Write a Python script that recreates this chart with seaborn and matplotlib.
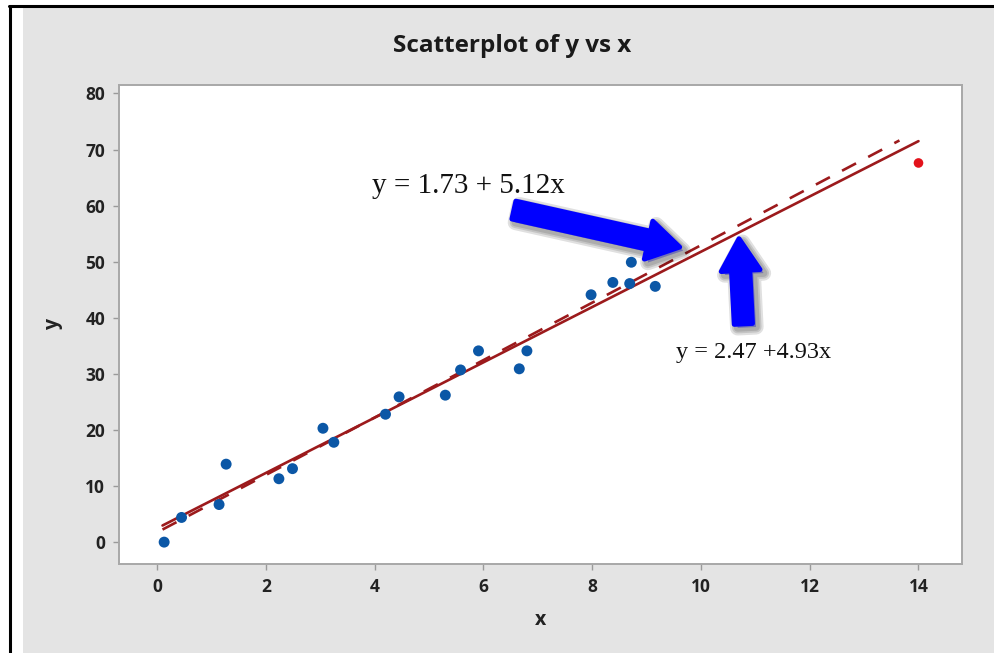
import matplotlib
matplotlib.use("Agg")
import matplotlib.pyplot as plt
import matplotlib.patheffects as pe
from matplotlib.patches import Rectangle
from matplotlib.lines import Line2D
import seaborn as sns
import pandas as pd
import numpy as np

# ---- data ----
x_vals = [0.13, 0.45, 1.14, 1.27, 2.24, 2.49, 3.05, 3.25, 4.20, 4.45,
          5.30, 5.58, 5.91, 6.66, 6.80, 7.98, 8.38, 8.72, 8.69, 9.16]
y_vals = [0.0, 4.4, 6.7, 13.9, 11.3, 13.1, 20.3, 17.8, 22.8, 25.9,
          26.2, 30.7, 34.1, 30.9, 34.1, 44.1, 46.3, 49.9, 46.1, 45.6]
outlier_x = [14.0]
outlier_y = [67.6]

# fitted lines (intercept, slope) and their drawn x-extent
solid_fit = (2.47, 4.93)
solid_x = [0.1, 14.0]
dashed_fit = (1.73, 5.12)
dashed_x = [0.1, 13.65]

title = "Scatterplot of y vs x"
eq_dashed = "y = 1.73 + 5.12x"
eq_solid = "y = 2.47 +4.93x"
x_ticks = [0, 2, 4, 6, 8, 10, 12, 14]
y_ticks = [0, 10, 20, 30, 40, 50, 60, 70, 80]

# ---- figure ----
sns.set_theme(style="white")
plt.rcParams['font.family'] = ['Open Sans', 'DejaVu Sans']

W, H = 995, 653
fig = plt.figure(figsize=(W / 100, H / 100), dpi=100)
fig.patch.set_facecolor("white")

# grey panel and black frame lines
fig.add_artist(Rectangle((23 / W, 0), 1 - 23 / W, 1 - 8 / H, transform=fig.transFigure,
                         facecolor="#E4E4E4", edgecolor="none", zorder=0))
fig.add_artist(Line2D([10 / W, 10 / W], [0, 1 - 6 / H], transform=fig.transFigure,
                      color="black", lw=2.2))
fig.add_artist(Line2D([9 / W, 1], [1 - 6 / H, 1 - 6 / H], transform=fig.transFigure,
                      color="black", lw=2.2))

ax = fig.add_axes([119 / W, 1 - 564 / H, (962 - 119) / W, (564 - 85) / H])
ax.set_facecolor("white")

df = pd.DataFrame({"x": x_vals, "y": y_vals})
df_out = pd.DataFrame({"x": outlier_x, "y": outlier_y})

line_color = "#9C1A1C"
sx = np.array(solid_x)
dx = np.array(dashed_x)
solid_df = pd.DataFrame({"x": sx, "y": solid_fit[0] + solid_fit[1] * sx})
dashed_df = pd.DataFrame({"x": dx, "y": dashed_fit[0] + dashed_fit[1] * dx})

sns.lineplot(data=solid_df, x="x", y="y", ax=ax, color=line_color, lw=1.9, zorder=3)
dl = sns.lineplot(data=dashed_df, x="x", y="y", ax=ax, color=line_color, lw=1.9, zorder=3)
dl.lines[-1].set_dashes((6, 5.2))

sns.scatterplot(data=df, x="x", y="y", ax=ax, color="#0B57A6", s=62,
                edgecolor="none", zorder=4)
sns.scatterplot(data=df_out, x="x", y="y", ax=ax, color="#E3121B", s=48,
                edgecolor="none", zorder=4)

ax.set_xlim(-0.70, 14.80)
ax.set_ylim(-3.9, 81.5)
ax.set_xticks(x_ticks)
ax.set_yticks(y_ticks)

for sp in ax.spines.values():
    sp.set_color("#A8A8A8")
    sp.set_linewidth(1.4)
ax.tick_params(axis="both", direction="out", length=4, width=1, color="#9A9A9A",
               labelsize=12.5, labelcolor="#222222", pad=6, bottom=True, left=True)
for lab in ax.get_xticklabels() + ax.get_yticklabels():
    lab.set_fontweight("bold")

ax.set_xlabel("x", fontsize=14, fontweight="bold", color="#222222", labelpad=10)
ax.set_ylabel("y", fontsize=14, fontweight="bold", color="#222222", labelpad=16)

fig.text(512 / W, 1 - 46 / H, title, ha="center", va="center",
         fontsize=17.5, fontweight="bold", color="#1A1A1A")

# equations
ax.text(5.73, 63.5, eq_dashed, ha="center", va="center", fontsize=21,
        family="Liberation Serif", color="#111111", zorder=6)
ax.text(10.97, 33.8, eq_solid, ha="center", va="center", fontsize=17.5,
        family="Liberation Serif", color="#111111", zorder=6)

# blue arrows with a soft shadow
arrow_style = "simple,head_length=1.15,head_width=1.4,tail_width=0.66"
shadow = [pe.Stroke(linewidth=lw_s, foreground="black", alpha=0.12, offset=(2.5, -2.5))
          for lw_s in (11, 8, 5.5)]
shadow.append(pe.Normal())
for tail, tip in [((6.56, 59.2), (9.61, 52.6)), ((10.78, 38.9), (10.70, 54.1))]:
    ann = ax.annotate("", xy=tip, xytext=tail,
                      arrowprops=dict(arrowstyle=arrow_style, mutation_scale=20,
                                      facecolor="#0000FF", edgecolor="#0000FF",
                                      lw=3.5, joinstyle="round", capstyle="round",
                                      shrinkA=0, shrinkB=0),
                      zorder=7)
    ann.arrow_patch.set_path_effects(shadow)

fig.savefig("out.png", dpi=100, facecolor=fig.get_facecolor())
